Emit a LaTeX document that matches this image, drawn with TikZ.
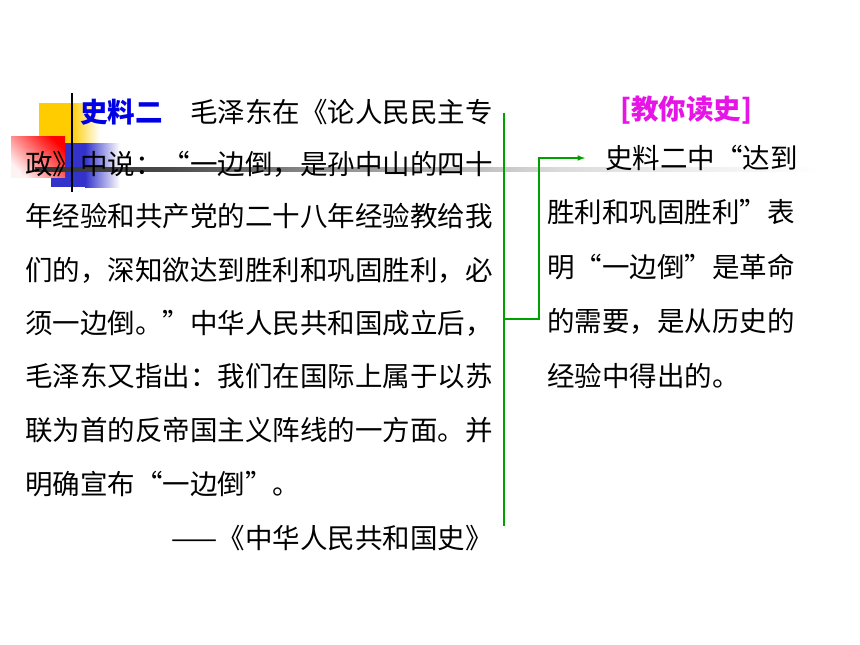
\documentclass[tikz,border=0pt]{standalone}
\usepackage{fontspec}
\usepackage{tikz}
\usetikzlibrary{arrows}
\usetikzlibrary{positioning}
\newfontfamily\cjk{Noto Sans CJK SC}
\definecolor{myellow}{RGB}{255, 204, 0}
\definecolor{mblue}{RGB}{51, 51, 204}
\definecolor{mtitle}{RGB}{0, 0, 230}
\definecolor{mpink}{RGB}{230, 20, 230}
\definecolor{mgreen}{RGB}{0, 160, 0}

\begin{document}
\begin{tikzpicture}[x=1pt, y=-1pt,
    txt/.style={anchor=west, inner sep=0pt, font=\cjk\fontsize{27.5}{30}\selectfont},
    bold/.style={txt, font=\cjk\bfseries\fontsize{27.5}{30}\selectfont}]
    \useasboundingbox (0, 0) rectangle (860, 645);

    % squares in the corner
    \fill [myellow] (39, 103) rectangle (71, 143);
    \shade [left color=myellow, right color=white] (71, 103) rectangle (100, 143);
    \fill [mblue] (51, 143) rectangle (85, 187);
    \shade [left color=mblue, right color=white] (85, 143) rectangle (120, 187);
    \shade [left color=red!5, right color=red, shading angle=135] (11, 136) rectangle (65, 177);

    % bar across the slide, fading out
    \foreach \a/\b/\ca/\cb in {35/160/80/72, 160/320/72/45, 320/560/45/14, 560/820/14/0}
        \shade [left color=black!\ca, right color=black!\cb] (\a, 167) rectangle (\b, 171);

    % source text
    \node [bold, mtitle] (s0) at (80, 112) {史料二};
    \node [txt] (l1) at (190, 112) {毛泽东在《论人民民主专};
    \node [txt] (l2) at (25, 164) {政》中说：“一边倒，是孙中山的四十};
    \node [txt] (l3) at (25, 216) {年经验和共产党的二十八年经验教给我};
    \node [txt] (l4) at (25, 270) {们的，深知欲达到胜利和巩固胜利，必};
    \node [txt] (l5) at (25, 323) {须一边倒。”中华人民共和国成立后，};
    \node [txt] (l6) at (25, 376) {毛泽东又指出：我们在国际上属于以苏};
    \node [txt] (l7) at (25, 430) {联为首的反帝国主义阵线的一方面。并};
    \node [txt] (l8) at (25, 484) {明确宣布“一边倒”。};
    \node [txt, anchor=east] (src) at (493, 538) {——《中华人民共和国史》};

    % reading
    \node [bold, mpink, anchor=center] (title) at (686, 110) {[教你读史]};
    \node [txt] (r1) at (605, 158) {史料二中“达到};
    \node [txt] (r2) at (547, 212) {胜利和巩固胜利”表};
    \node [txt] (r3) at (547, 267) {明“一边倒”是革命};
    \node [txt] (r4) at (547, 321) {的需要，是从历史的};
    \node [txt] (r5) at (547, 376) {经验中得出的。};

    % line over the corner
    \draw [line width=2pt] (72, 93) -- (72, 192);

    % green bracket
    \coordinate (top) at (504, 113);
    \coordinate (bot) at (504, 526);
    \coordinate (mid) at (504, 319);
    \coordinate (turn) at (539, 319);
    \coordinate (tip) at (585, 158);
    \draw [mgreen, line width=1.5pt] (top) -- (bot);
    \draw [mgreen, line width=1.5pt, -latex] (mid) -- (turn) |- (tip);
\end{tikzpicture}
\end{document}
